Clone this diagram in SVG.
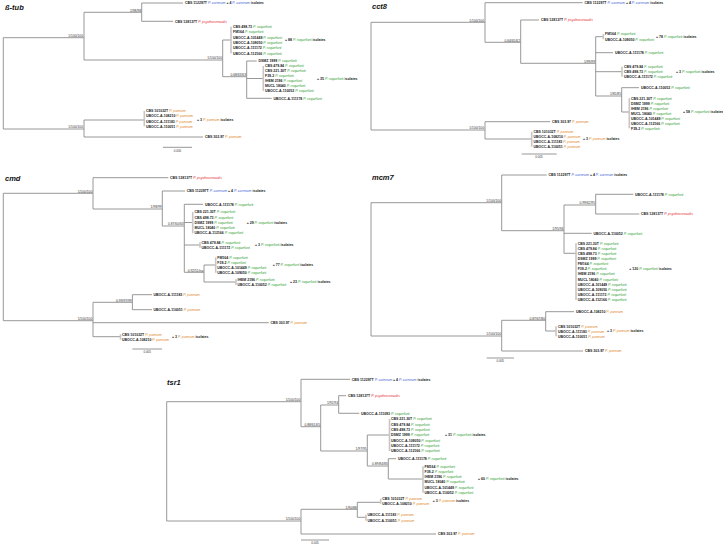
<svg xmlns="http://www.w3.org/2000/svg" width="723" height="545" viewBox="0 0 723 545">
<style>
.br{fill:none;stroke:#8c8c8c;stroke-width:0.9}
.bk{fill:none;stroke:#c6c6c6;stroke-width:1.6}
text{font-family:"Liberation Sans",Arial,sans-serif}
.l{font-size:3.5px;font-weight:bold;fill:#1a1a1a}
.sp{font-style:italic;font-weight:normal}
.ca{fill:#3f63d6}.ps{fill:#e4262a}.ro{fill:#2b9a2b}.pa{fill:#e0821a}
.s{font-size:3.3px;fill:#333;text-anchor:end}
.ti{font-size:7.5px;font-weight:bold;font-style:italic;fill:#111}
.sc{font-size:3px;fill:#333;text-anchor:middle}
</style>
<rect width="723" height="545" fill="#fff"/>
<g id="connectors">
<path class="br" d="M3.3 37.7V129M3.3 37.7H84M3.3 129H84M84 12.3V60M84 12.3H141.7M141.7 3V21.3M141.7 3H183M141.7 21.3H173M84 60H222.7M222.7 40V76.7M222.7 40H231M222.7 76.7H246.7M246.7 61V98.3M246.7 61H256.7M246.7 78.5H263.3M246.7 98.3H271.7M84 120V137M84 120H144.3M84 137H203M163 147.3H192"/>
<path class="bk" d="M231 26.7V53.3M263.3 66V91M144.3 110.7V126.3"/>
<path class="br" d="M371 22.3V130M371 22.3H485M371 130H485M485 2.7V42.3M485 2.7H582.7M485 42.3H520.7M520.7 20V63.3M520.7 20H539M520.7 63.3H595.7M595.7 36.7V96M595.7 36.7H603.3M595.7 52.7H613M595.7 71.7H622M595.7 96H621.7M621.7 87.7V112M621.7 87.7H639M621.7 112H629.3M485 121.7V139M485 121.7H550M485 139H531.7M521.7 154H556.7"/>
<path class="bk" d="M603.3 34V39.3M622 66.7V76.7M629.3 98.3V128.3M531.7 131.7V146.7"/>
<path class="br" d="M3.3 193.3V320.7M3.3 193.3H93M3.3 320.7H93M93 177.7V209M93 177.7H168.3M93 209H162.3M162.3 191V226M162.3 191H185M162.3 226H184.3M184.3 204.3V272.3M184.3 204.3H203M184.3 222.5H192.7M184.3 245H200M184.3 272.3H204M204 265V282M204 265H215.7M204 282H236M93 302.3V336.7M93 302.3H132.4M132.4 294.7V309.7M132.4 294.7H152M132.4 309.7H152M93 322.7H268.8M93 336.7H120.5M132.4 349H162"/>
<path class="bk" d="M192.7 212V233.3M200 242.3V247.7M215.7 257.3V272.7M236 279.3V285M120.5 334.3V339.7"/>
<path class="br" d="M371 202.7V336M371 202.7H501.7M371 336H501.7M501.7 175V230.7M501.7 175H546.7M501.7 230.7H564M564 205V253.3M564 205H595.7M595.7 194.3V214M595.7 194.3H633.3M595.7 214H639.3M564 233.3H591.7M564 253.3H576M501.7 320.3V351M501.7 320.3H545.7M545.7 311.7V331M545.7 311.7H574M545.7 331H556M501.7 351H583M486.7 358H514"/>
<path class="bk" d="M576 243.3V300M556 326.3V336.3"/>
<path class="br" d="M166.7 401.7V521M166.7 401.7H301M166.7 521H301M301 379.3V426.7M301 379.3H350M301 426.7H320.7M320.7 405V451M320.7 405H338.7M338.7 395.7V413.3M338.7 395.7H346M338.7 413.3H359.3M320.7 451H367.3M367.3 435V466M367.3 435H389.5M367.3 466H388.3M388.3 458.7V479M388.3 458.7H396M388.3 479H423M301 509.3V534M301 509.3H357.3M357.3 502.3V517.3M357.3 502.3H380.7M357.3 517.3H366M301 534H436M301 540H329"/>
<path class="bk" d="M389.5 419V451M423 466.3V492.7M380.7 498.7V503.7M366 514.7V520.7"/>
<g id="support">
<text class="s" x="83" y="37">1/100/100</text><text class="s" x="141" y="11.6">1/98/98</text><text class="s" x="222" y="59.3">1/100/100</text><text class="s" x="246" y="76">0.68/63/63</text><text class="s" x="83" y="128.3">1/100/100</text>
<text class="s" x="484" y="21.7">1/100/100</text><text class="s" x="520" y="41.7">0.64/65/62</text><text class="s" x="595" y="62.7">1/99/99</text><text class="s" x="621" y="95.4">1/85/85</text><text class="s" x="484" y="129.4">1/100/100</text>
<text class="s" x="92.3" y="192.7">1/100/100</text><text class="s" x="161.6" y="208.4">1/98/99</text><text class="s" x="183.6" y="225.4">0.87/60/63</text><text class="s" x="203.3" y="271.7">0.92/51/na</text><text class="s" x="92.3" y="320.1">1/100/100</text><text class="s" x="131.7" y="301.7">0.99/97/99</text>
<text class="s" x="501" y="202.1">1/100/100</text><text class="s" x="563.3" y="230.1">1/95/94</text><text class="s" x="595" y="204.4">0.99/62/95</text><text class="s" x="501" y="335.4">1/100/100</text><text class="s" x="545" y="319.7">0.87/67/80</text>
<text class="s" x="300.3" y="401.1">1/100/100</text><text class="s" x="320" y="426.1">0.88/61/65</text><text class="s" x="338" y="404.4">1/92/94</text><text class="s" x="366.6" y="450.4">1/97/95</text><text class="s" x="387.6" y="465.4">0.89/84/83</text><text class="s" x="300.3" y="520.4">1/100/100</text><text class="s" x="356.6" y="508.7">1/90/88</text>
</g>
<g id="scales">
<text class="sc" x="177.5" y="151.5">0.005</text><text class="sc" x="539" y="158">0.005</text><text class="sc" x="147.2" y="353">0.005</text><text class="sc" x="500.3" y="362">0.005</text><text class="sc" x="315" y="544">0.005</text>
</g>
</g>

<g id="btub">
<text class="ti" x="5" y="9.5">ß-tub</text>
<g id="b-carneum" class="l"><text x="185" y="4.2">CBS 112297T <tspan class="sp ca">P. carneum</tspan> + 4 <tspan class="sp ca">P. carneum</tspan> isolates</text></g>
<g id="b-psychro" class="l"><text x="175" y="22.5">CBS 128137T <tspan class="sp ps">P. psychrosexualis</tspan></text></g>
<g id="b-roq1" class="l">
<text x="233" y="27.9">CBS 498.73 <tspan class="sp ro">P. roqueforti</tspan></text>
<text x="233" y="33.2">FM164 <tspan class="sp ro">P. roqueforti</tspan></text>
<text x="233" y="38.5">UBOCC-A-101449 <tspan class="sp ro">P. roqueforti</tspan></text>
<text x="233" y="43.9">UBOCC-A-109050 <tspan class="sp ro">P. roqueforti</tspan></text>
<text x="233" y="49.2">UBOCC-A-111172 <tspan class="sp ro">P. roqueforti</tspan></text>
<text x="233" y="54.5">UBOCC-A-112166 <tspan class="sp ro">P. roqueforti</tspan></text>
<text x="285" y="41.2">+ 88 <tspan class="sp ro">P. roqueforti</tspan> isolates</text>
</g>
<g id="b-dsmz" class="l"><text x="258.5" y="62.2">DSMZ 1999 <tspan class="sp ro">P. roqueforti</tspan></text></g>
<g id="b-roq2" class="l">
<text x="265" y="67.2">CBS 479.84 <tspan class="sp ro">P. roqueforti</tspan></text>
<text x="265" y="72.2">CBS 221.30T <tspan class="sp ro">P. roqueforti</tspan></text>
<text x="265" y="77.2">F39-2 <tspan class="sp ro">P. roqueforti</tspan></text>
<text x="265" y="82.2">IHEM 2196 <tspan class="sp ro">P. roqueforti</tspan></text>
<text x="265" y="87.2">MUCL 18040 <tspan class="sp ro">P. roqueforti</tspan></text>
<text x="265" y="92.2">UBOCC-A-110052 <tspan class="sp ro">P. roqueforti</tspan></text>
<text x="317" y="79.7">+ 35 <tspan class="sp ro">P. roqueforti</tspan> isolates</text>
</g>
<g id="b-111178" class="l"><text x="273.5" y="99.5">UBOCC-A-111178 <tspan class="sp ro">P. roqueforti</tspan></text></g>
<g id="b-paneum" class="l">
<text x="146" y="111.9">CBS 101032T <tspan class="sp pa">P. paneum</tspan></text>
<text x="146" y="117.2">UBOCC-A-108210 <tspan class="sp pa">P. paneum</tspan></text>
<text x="146" y="122.5">UBOCC-A-111183 <tspan class="sp pa">P. paneum</tspan></text>
<text x="146" y="127.5">UBOCC-A-110051 <tspan class="sp pa">P. paneum</tspan></text>
<text x="197" y="121.2">+ 3 <tspan class="sp pa">P. paneum</tspan> isolates</text>
</g>
<g id="b-30397" class="l"><text x="205" y="138.2">CBS 303.97 <tspan class="sp pa">P. paneum</tspan></text></g>
</g>

<g id="cct8">
<text class="ti" x="372" y="8.5">cct8</text>
<g id="c-carneum" class="l"><text x="584.5" y="3.9">CBS 112297T <tspan class="sp ca">P. carneum</tspan> + 4 <tspan class="sp ca">P. carneum</tspan> isolates</text></g>
<g id="c-psychro" class="l"><text x="541" y="21.2">CBS 128137T <tspan class="sp ps">P. psychrosexualis</tspan></text></g>
<g id="c-roq1" class="l">
<text x="605" y="35.2">FM164 <tspan class="sp ro">P. roqueforti</tspan></text>
<text x="605" y="40.5">UBOCC-A-109050 <tspan class="sp ro">P. roqueforti</tspan></text>
<text x="656" y="37.9">+ 78 <tspan class="sp ro">P. roqueforti</tspan> isolates</text>
</g>
<g id="c-111178" class="l"><text x="615" y="53.9">UBOCC-A-111178 <tspan class="sp ro">P. roqueforti</tspan></text></g>
<g id="c-roq2" class="l">
<text x="624" y="67.9">CBS 479.84 <tspan class="sp ro">P. roqueforti</tspan></text>
<text x="624" y="72.9">CBS 498.73 <tspan class="sp ro">P. roqueforti</tspan></text>
<text x="624" y="77.9">UBOCC-A-111172 <tspan class="sp ro">P. roqueforti</tspan></text>
<text x="676" y="72.9">+ 3 <tspan class="sp ro">P. roqueforti</tspan> isolates</text>
</g>
<g id="c-110052" class="l"><text x="641" y="88.9">UBOCC-A-110052 <tspan class="sp ro">P. roqueforti</tspan></text></g>
<g id="c-roq3" class="l">
<text x="631" y="99.5">CBS 221.30T <tspan class="sp ro">P. roqueforti</tspan></text>
<text x="631" y="104.5">DSMZ 1999 <tspan class="sp ro">P. roqueforti</tspan></text>
<text x="631" y="109.5">IHEM 2196 <tspan class="sp ro">P. roqueforti</tspan></text>
<text x="631" y="114.5">MUCL 18040 <tspan class="sp ro">P. roqueforti</tspan></text>
<text x="631" y="119.5">UBOCC-A-101449 <tspan class="sp ro">P. roqueforti</tspan></text>
<text x="631" y="124.5">UBOCC-A-112166 <tspan class="sp ro">P. roqueforti</tspan></text>
<text x="631" y="129.5">F39-2 <tspan class="sp ro">P. roqueforti</tspan></text>
<text x="683" y="113.2">+ 58 <tspan class="sp ro">P. roqueforti</tspan> isolates</text>
</g>
<g id="c-30397" class="l"><text x="552" y="122.9">CBS 303.97 <tspan class="sp pa">P. paneum</tspan></text></g>
<g id="c-paneum" class="l">
<text x="533.5" y="132.9">CBS 101032T <tspan class="sp pa">P. paneum</tspan></text>
<text x="533.5" y="137.9">UBOCC-A-108210 <tspan class="sp pa">P. paneum</tspan></text>
<text x="533.5" y="142.9">UBOCC-A-111183 <tspan class="sp pa">P. paneum</tspan></text>
<text x="533.5" y="147.9">UBOCC-A-110051 <tspan class="sp pa">P. paneum</tspan></text>
<text x="583" y="140.2">+ 3 <tspan class="sp pa">P. paneum</tspan> isolates</text>
</g>
</g>

<g id="cmd">
<text class="ti" x="5" y="180.5">cmd</text>
<g id="m-psychro" class="l"><text x="170" y="178.9">CBS 128137T <tspan class="sp ps">P. psychrosexualis</tspan></text></g>
<g id="m-carneum" class="l"><text x="186.7" y="192.2">CBS 112297T <tspan class="sp ca">P. carneum</tspan> + 4 <tspan class="sp ca">P. carneum</tspan> isolates</text></g>
<g id="m-111178" class="l"><text x="205" y="205.5">UBOCC-A-111178 <tspan class="sp ro">P. roqueforti</tspan></text></g>
<g id="m-roq1" class="l">
<text x="194.5" y="213.2">CBS 221.30T <tspan class="sp ro">P. roqueforti</tspan></text>
<text x="194.5" y="218.5">CBS 498.73 <tspan class="sp ro">P. roqueforti</tspan></text>
<text x="194.5" y="223.8">DSMZ 1999 <tspan class="sp ro">P. roqueforti</tspan></text>
<text x="194.5" y="229.1">MUCL 18040 <tspan class="sp ro">P. roqueforti</tspan></text>
<text x="194.5" y="234.4">UBOCC-A-112166 <tspan class="sp ro">P. roqueforti</tspan></text>
<text x="246.7" y="223.7">+ 29 <tspan class="sp ro">P. roqueforti</tspan> isolates</text>
</g>
<g id="m-roq2" class="l">
<text x="201.5" y="243.5">CBS 479.84 <tspan class="sp ro">P. roqueforti</tspan></text>
<text x="201.5" y="248.9">UBOCC-A-111172 <tspan class="sp ro">P. roqueforti</tspan></text>
<text x="255" y="246.2">+ 3 <tspan class="sp ro">P. roqueforti</tspan> isolates</text>
</g>
<g id="m-roq3" class="l">
<text x="217.3" y="258.5">FM164 <tspan class="sp ro">P. roqueforti</tspan></text>
<text x="217.3" y="263.6">F39-2 <tspan class="sp ro">P. roqueforti</tspan></text>
<text x="217.3" y="268.8">UBOCC-A-101449 <tspan class="sp ro">P. roqueforti</tspan></text>
<text x="217.3" y="273.9">UBOCC-A-109050 <tspan class="sp ro">P. roqueforti</tspan></text>
<text x="272.7" y="266.2">+ 77 <tspan class="sp ro">P. roqueforti</tspan> isolates</text>
</g>
<g id="m-roq4" class="l">
<text x="237.5" y="280.5">IHEM 2196 <tspan class="sp ro">P. roqueforti</tspan></text>
<text x="237.5" y="286.2">UBOCC-A-110052 <tspan class="sp ro">P. roqueforti</tspan></text>
<text x="290" y="283.2">+ 23 <tspan class="sp ro">P. roqueforti</tspan> isolates</text>
</g>
<g id="m-111183" class="l"><text x="153.5" y="295.9">UBOCC-A-111183 <tspan class="sp pa">P. paneum</tspan></text></g>
<g id="m-110051" class="l"><text x="153.5" y="310.9">UBOCC-A-110051 <tspan class="sp pa">P. paneum</tspan></text></g>
<g id="m-30397" class="l"><text x="270.5" y="323.9">CBS 303.97 <tspan class="sp pa">P. paneum</tspan></text></g>
<g id="m-paneum" class="l">
<text x="122" y="335.5">CBS 101032T <tspan class="sp pa">P. paneum</tspan></text>
<text x="122" y="340.9">UBOCC-A-108210 <tspan class="sp pa">P. paneum</tspan></text>
<text x="172" y="337.9">+ 3 <tspan class="sp pa">P. paneum</tspan> isolates</text>
</g>
</g>

<g id="mcm7">
<text class="ti" x="372" y="179.5">mcm7</text>
<g id="k-carneum" class="l"><text x="548.5" y="176.2">CBS 112297T <tspan class="sp ca">P. carneum</tspan> + 4 <tspan class="sp ca">P. carneum</tspan> isolates</text></g>
<g id="k-111178" class="l"><text x="635" y="195.5">UBOCC-A-111178 <tspan class="sp ro">P. roqueforti</tspan></text></g>
<g id="k-psychro" class="l"><text x="641" y="215.2">CBS 128137T <tspan class="sp ps">P. psychrosexualis</tspan></text></g>
<g id="k-110052" class="l"><text x="593.5" y="234.5">UBOCC-A-110052 <tspan class="sp ro">P. roqueforti</tspan></text></g>
<g id="k-roq" class="l">
<text x="577.7" y="244.5">CBS 221.30T <tspan class="sp ro">P. roqueforti</tspan></text>
<text x="577.7" y="249.7">CBS 479.84 <tspan class="sp ro">P. roqueforti</tspan></text>
<text x="577.7" y="254.8">CBS 498.73 <tspan class="sp ro">P. roqueforti</tspan></text>
<text x="577.7" y="260">DSMZ 1999 <tspan class="sp ro">P. roqueforti</tspan></text>
<text x="577.7" y="265.1">FM164 <tspan class="sp ro">P. roqueforti</tspan></text>
<text x="577.7" y="270.3">F39-2 <tspan class="sp ro">P. roqueforti</tspan></text>
<text x="577.7" y="275.4">IHEM 2196 <tspan class="sp ro">P. roqueforti</tspan></text>
<text x="577.7" y="280.6">MUCL 18040 <tspan class="sp ro">P. roqueforti</tspan></text>
<text x="577.7" y="285.7">UBOCC-A-101449 <tspan class="sp ro">P. roqueforti</tspan></text>
<text x="577.7" y="290.9">UBOCC-A-109050 <tspan class="sp ro">P. roqueforti</tspan></text>
<text x="577.7" y="296">UBOCC-A-111172 <tspan class="sp ro">P. roqueforti</tspan></text>
<text x="577.7" y="301.2">UBOCC-A-112166 <tspan class="sp ro">P. roqueforti</tspan></text>
<text x="629.3" y="269.5">+ 120 <tspan class="sp ro">P. roqueforti</tspan> isolates</text>
</g>
<g id="k-108210" class="l"><text x="576" y="312.9">UBOCC-A-108210 <tspan class="sp pa">P. paneum</tspan></text></g>
<g id="k-paneum" class="l">
<text x="558" y="327.5">CBS 101032T <tspan class="sp pa">P. paneum</tspan></text>
<text x="558" y="332.5">UBOCC-A-111183 <tspan class="sp pa">P. paneum</tspan></text>
<text x="558" y="337.5">UBOCC-A-110051 <tspan class="sp pa">P. paneum</tspan></text>
<text x="607" y="332.2">+ 3 <tspan class="sp pa">P. paneum</tspan> isolates</text>
</g>
<g id="k-30397" class="l"><text x="585" y="352.2">CBS 303.97 <tspan class="sp pa">P. paneum</tspan></text></g>
</g>

<g id="tsr1">
<text class="ti" x="167" y="385">tsr1</text>
<g id="t-carneum" class="l"><text x="351.7" y="380.5">CBS 112297T <tspan class="sp ca">P. carneum</tspan> + 4 <tspan class="sp ca">P. carneum</tspan> isolates</text></g>
<g id="t-psychro" class="l"><text x="348" y="396.9">CBS 128137T <tspan class="sp ps">P. psychrosexualis</tspan></text></g>
<g id="t-111093" class="l"><text x="361" y="414.5">UBOCC-A-111093 <tspan class="sp ro">P. roqueforti</tspan></text></g>
<g id="t-roq1" class="l">
<text x="391" y="420.2">CBS 221.30T <tspan class="sp ro">P. roqueforti</tspan></text>
<text x="391" y="425.5">CBS 479.84 <tspan class="sp ro">P. roqueforti</tspan></text>
<text x="391" y="430.9">CBS 498.73 <tspan class="sp ro">P. roqueforti</tspan></text>
<text x="391" y="436.2">DSMZ 1999 <tspan class="sp ro">P. roqueforti</tspan></text>
<text x="391" y="441.5">UBOCC-A-109050 <tspan class="sp ro">P. roqueforti</tspan></text>
<text x="391" y="446.9">UBOCC-A-111172 <tspan class="sp ro">P. roqueforti</tspan></text>
<text x="391" y="452.2">UBOCC-A-112166 <tspan class="sp ro">P. roqueforti</tspan></text>
<text x="445" y="436.2">+ 31 <tspan class="sp ro">P. roqueforti</tspan> isolates</text>
</g>
<g id="t-111178" class="l"><text x="398" y="459.9">UBOCC-A-111178 <tspan class="sp ro">P. roqueforti</tspan></text></g>
<g id="t-roq2" class="l">
<text x="424.5" y="467.5">FM164 <tspan class="sp ro">P. roqueforti</tspan></text>
<text x="424.5" y="472.8">F39-2 <tspan class="sp ro">P. roqueforti</tspan></text>
<text x="424.5" y="478">IHEM 2196 <tspan class="sp ro">P. roqueforti</tspan></text>
<text x="424.5" y="483.3">MUCL 18040 <tspan class="sp ro">P. roqueforti</tspan></text>
<text x="424.5" y="488.6">UBOCC-A-101449 <tspan class="sp ro">P. roqueforti</tspan></text>
<text x="424.5" y="493.9">UBOCC-A-110052 <tspan class="sp ro">P. roqueforti</tspan></text>
<text x="478" y="480.2">+ 60 <tspan class="sp ro">P. roqueforti</tspan> isolates</text>
</g>
<g id="t-paneum1" class="l">
<text x="382.3" y="499.9">CBS 101032T <tspan class="sp pa">P. paneum</tspan></text>
<text x="382.3" y="504.9">UBOCC-A-108210 <tspan class="sp pa">P. paneum</tspan></text>
<text x="432.7" y="502.2">+ 3 <tspan class="sp pa">P. paneum</tspan> isolates</text>
</g>
<g id="t-paneum2" class="l">
<text x="367.5" y="515.9">UBOCC-A-111183 <tspan class="sp pa">P. paneum</tspan></text>
<text x="367.5" y="521.9">UBOCC-A-110051 <tspan class="sp pa">P. paneum</tspan></text>
</g>
<g id="t-30397" class="l"><text x="438" y="535.2">CBS 303.97 <tspan class="sp pa">P. paneum</tspan></text></g>
</g>
</svg>
